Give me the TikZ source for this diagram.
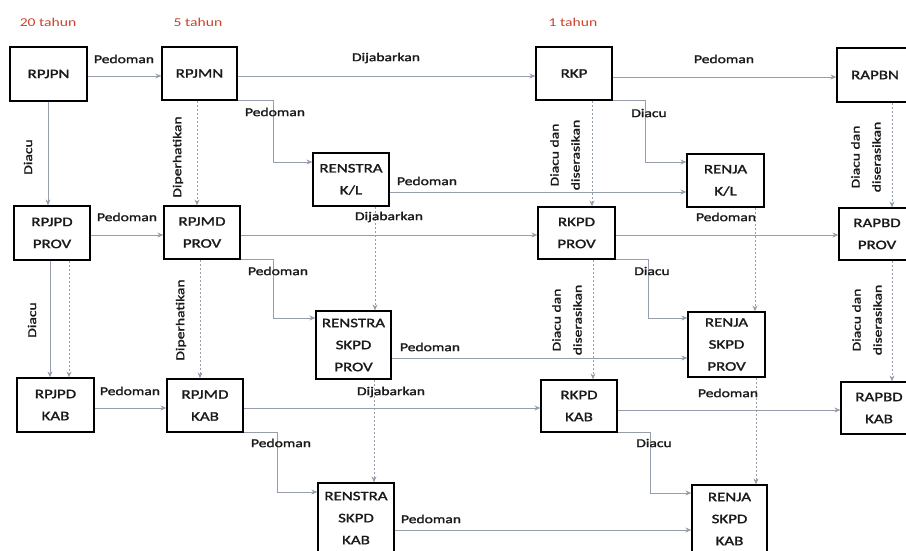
\documentclass[tikz,border=0pt]{standalone}
\usepackage{fontspec}
\setmainfont{Carlito}[FakeStretch=1.3]
\newfontfamily\semib{Carlito}[FakeStretch=1.3, FakeBold=1.6]
\usetikzlibrary{arrows.meta}
\definecolor{hdr}{RGB}{205,65,45}
\definecolor{ln}{RGB}{150,158,172}
\definecolor{txt}{RGB}{25,25,25}
\tikzset{
 box/.style={draw=black, line width=1.2pt, rectangle, inner sep=0pt, align=center, font=\fontsize{13}{22}\semib, text=txt},
 lbl/.style={font=\fontsize{12}{21}\semib, text=txt, inner sep=0pt},
 vlbl/.style={lbl, rotate=90, align=center},
 hdrlbl/.style={font=\fontsize{12}{14}\selectfont, text=hdr, inner sep=0pt},
 con/.style={draw=ln, line width=0.8pt, -{Stealth[length=6pt,width=5pt]}},
 dcon/.style={con, dash pattern=on 2pt off 2pt},
}
\begin{document}
\begin{tikzpicture}[x=1pt,y=-1pt]
\useasboundingbox (0,0) rectangle (906,550);
% headers
\node[hdrlbl] (h20) at (48,22) {20 tahun};
\node[hdrlbl] (h5) at (198,22) {5 tahun};
\node[hdrlbl] (h1) at (573,22) {1 tahun};
% row 1
\node[box,minimum width=77pt,minimum height=54pt] (RPJPN) at (48.5,74) {RPJPN};
\node[box,minimum width=75pt,minimum height=53pt] (RPJMN) at (199.5,73.5) {RPJMN};
\node[box,minimum width=76pt,minimum height=53pt] (RKP) at (574,73.5) {RKP};
\node[box,minimum width=76pt,minimum height=54pt] (RAPBN) at (875,75) {RAPBN};
\node[box,minimum width=76pt,minimum height=53pt] (RENSTRAKL) at (351,179.5) {RENSTRA\\K/L};
\node[box,minimum width=77pt,minimum height=53pt] (RENJAKL) at (725.5,180.5) {RENJA\\K/L};
% row 2
\node[box,minimum width=76pt,minimum height=54pt] (RPJPDP) at (52,233) {RPJPD\\PROV};
\node[box,minimum width=76pt,minimum height=53pt] (RPJMDP) at (202,232.5) {RPJMD\\PROV};
\node[box,minimum width=77pt,minimum height=52pt] (RKPDP) at (576.5,233) {RKPD\\PROV};
\node[box,minimum width=76pt,minimum height=52pt] (RAPBDP) at (877,234) {RAPBD\\PROV};
\node[box,minimum width=75pt,minimum height=68pt] (RENSTRAP) at (353.5,345) {RENSTRA\\SKPD\\PROV};
\node[box,minimum width=77pt,minimum height=65pt] (RENJAP) at (726.5,344.5) {RENJA\\SKPD\\PROV};
% row 3
\node[box,minimum width=77pt,minimum height=54pt] (RPJPDK) at (55.5,405) {RPJPD\\KAB};
\node[box,minimum width=76pt,minimum height=53pt] (RPJMDK) at (205,405.5) {RPJMD\\KAB};
\node[box,minimum width=76pt,minimum height=52pt] (RKPDK) at (579,406) {RKPD\\KAB};
\node[box,minimum width=76pt,minimum height=52pt] (RAPBDK) at (879,408) {RAPBD\\KAB};
\node[box,minimum width=76pt,minimum height=70pt] (RENSTRAK) at (356,518) {RENSTRA\\SKPD\\KAB};
\node[box,minimum width=75pt,minimum height=68pt] (RENJAK) at (729.5,519) {RENJA\\SKPD\\KAB};

% horizontal connectors
\draw[con] (RPJPN.east |- 0,76) -- (RPJMN.west |- 0,76);
\draw[con] (RPJMN.east |- 0,76) -- (RKP.west |- 0,76);
\draw[con] (RKP.east |- 0,77) -- (RAPBN.west |- 0,77);
\draw[con] (RENSTRAKL.east |- 0,192) -- (RENJAKL.west |- 0,192);
\draw[con] (RPJPDP.east |- 0,235) -- (RPJMDP.west |- 0,235);
\draw[con] (RPJMDP.east |- 0,235) -- (RKPDP.west |- 0,235);
\draw[con] (RKPDP.east |- 0,235) -- (RAPBDP.west |- 0,235);
\draw[con] (RENSTRAP.east |- 0,358) -- (RENJAP.west |- 0,358);
\draw[con] (RPJPDK.east |- 0,408) -- (RPJMDK.west |- 0,408);
\draw[con] (RPJMDK.east |- 0,408) -- (RKPDK.west |- 0,408);
\draw[con] (RKPDK.east |- 0,410) -- (RAPBDK.west |- 0,410);
\draw[con] (RENSTRAK.east |- 0,530) -- (RENJAK.west |- 0,530);

% elbow connectors
\draw[con] (RPJMN.south east) -- (273,0 |- RPJMN.south east) -- (273,162) -- (RENSTRAKL.west |- 0,162);
\draw[con] (RKP.south east) -- (645,0 |- RKP.south east) -- (645,162) -- (RENJAKL.west |- 0,162);
\draw[con] (RPJMDP.south east) -- (273,0 |- RPJMDP.south east) -- (273,318) -- (RENSTRAP.west |- 0,318);
\draw[con] (RKPDP.south east) -- (648,0 |- RKPDP.south east) -- (648,318) -- (RENJAP.west |- 0,318);
\draw[con] (RPJMDK.south east) -- (277,0 |- RPJMDK.south east) -- (277,492) -- (RENSTRAK.west |- 0,492);
\draw[con] (RKPDK.south east) -- (650,0 |- RKPDK.south east) -- (650,493) -- (RENJAK.west |- 0,493);

% vertical connectors
\draw[con] (48,0 |- RPJPN.south) -- (48,0 |- RPJPDP.north);
\draw[dcon] (197,0 |- RPJMN.south) -- (197,0 |- RPJMDP.north);
\draw[dcon] (592,0 |- RKP.south) -- (592,0 |- RKPDP.north);
\draw[dcon] (892,0 |- RAPBN.south) -- (892,0 |- RAPBDP.north);
\draw[dcon] (375,0 |- RENSTRAKL.south) -- (375,0 |- RENSTRAP.north);
\draw[dcon] (755,0 |- RENJAKL.south) -- (755,0 |- RENJAP.north);
\draw[con] (50,0 |- RPJPDP.south) -- (50,0 |- RPJPDK.north);
\draw[dcon] (69,0 |- RPJPDP.south) -- (69,0 |- RPJPDK.north);
\draw[dcon] (200,0 |- RPJMDP.south) -- (200,0 |- RPJMDK.north);
\draw[dcon] (593,0 |- RKPDP.south) -- (593,0 |- RKPDK.north);
\draw[dcon] (892,0 |- RAPBDP.south) -- (892,0 |- RAPBDK.north);
\draw[dcon] (374,0 |- RENSTRAP.south) -- (374,0 |- RENSTRAK.north);
\draw[dcon] (756,0 |- RENJAP.south) -- (756,0 |- RENJAK.north);

% labels row 1
\node[lbl] (l1) at (124,59) {Pedoman};
\node[lbl] (l2) at (386,58) {Dijabarkan};
\node[lbl] (l3) at (724,59) {Pedoman};
\node[lbl] (l4) at (275,112) {Pedoman};
\node[lbl] (l5) at (649,113) {Diacu};
\node[lbl] (l6) at (427,181) {Pedoman};
\node[vlbl] (l7) at (28,157) {Diacu};
\node[vlbl] (l8) at (178,157) {Diperhatikan};
\node[vlbl] (l9) at (565,155) {Diacu dan\\diserasikan};
\node[vlbl] (l10) at (866,157) {Diacu dan\\diserasikan};
% labels row 2
\node[lbl] (l11) at (127,217) {Pedoman};
\node[lbl] (l12) at (389,217) {Dijabarkan};
\node[lbl] (l13) at (726,217) {Pedoman};
\node[lbl] (l14) at (278,271) {Pedoman};
\node[lbl] (l15) at (652,271) {Diacu};
\node[lbl] (l16) at (430,347) {Pedoman};
\node[vlbl] (l17) at (32,320) {Diacu};
\node[vlbl] (l18) at (181,320) {Diperhatikan};
\node[vlbl] (l19) at (567,320) {Diacu dan\\diserasikan};
\node[vlbl] (l20) at (867,320) {Diacu dan\\diserasikan};
% labels row 3
\node[lbl] (l21) at (130,391) {Pedoman};
\node[lbl] (l22) at (391,392) {Dijabarkan};
\node[lbl] (l23) at (728,393) {Pedoman};
\node[lbl] (l24) at (281,443) {Pedoman};
\node[lbl] (l25) at (654,443) {Diacu};
\node[lbl] (l26) at (431,519) {Pedoman};
\end{tikzpicture}
\end{document}
